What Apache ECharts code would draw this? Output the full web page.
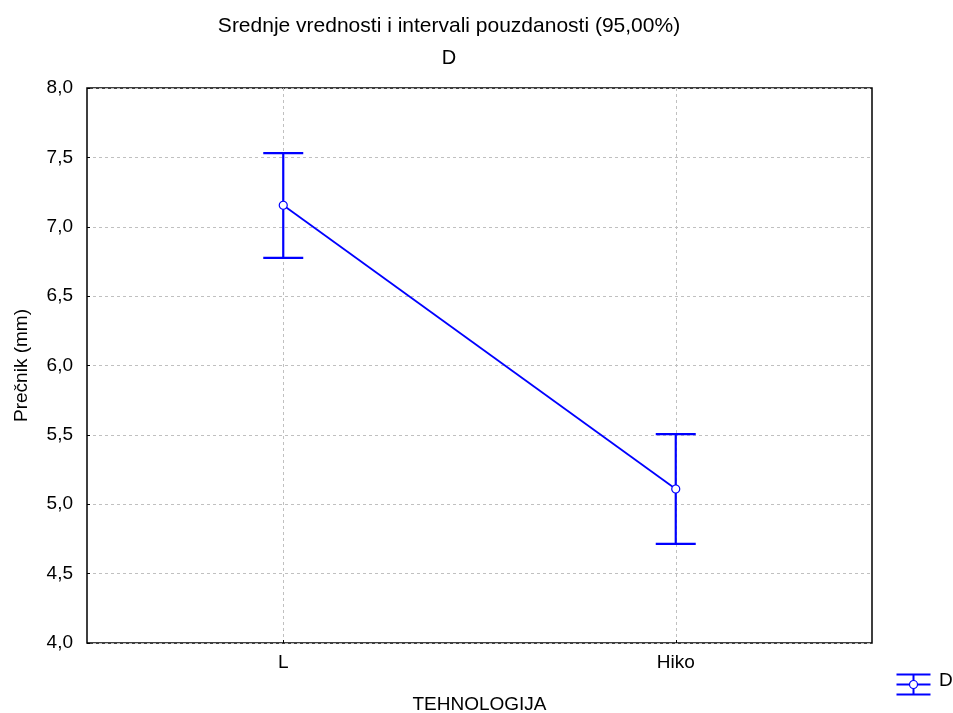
<!DOCTYPE html>
<html>
<head>
<meta charset="utf-8">
<script src="https://cdn.jsdelivr.net/npm/echarts@6/dist/echarts.min.js"></script>
<style>
  html, body { margin: 0; padding: 0; background: #fff; }
  #chart { width: 953px; height: 713px; }
</style>
</head>
<body>
<div id="chart"></div>
<script>
// Means with 95% confidence intervals, by technology
var categories = ['L', 'Hiko'];
var means = [7.155, 5.11];
var upper = [7.53, 5.505];
var lower = [6.775, 4.715];
var yTicks = { min: 4, max: 8, interval: 0.5 };

(function() {
  var blue = '#0000ff';
  var font = 'Liberation Sans, Arial, sans-serif';
  var fs = 19;
  var fmt = function(v) { return v.toFixed(1).replace('.', ','); };

  var chart = echarts.init(document.getElementById('chart'), null, { renderer: 'canvas' });
  chart.setOption({
    animation: false,
    textStyle: { fontFamily: font },
    title: [
      { text: 'Srednje vrednosti i intervali pouzdanosti (95,00%)', left: 444, top: 11, textAlign: 'center',
        textStyle: { fontSize: 21, fontWeight: 'normal', color: '#000' } },
      { text: 'D', left: 444, top: 43, textAlign: 'center',
        textStyle: { fontSize: 20, fontWeight: 'normal', color: '#000' } }
    ],
    grid: { left: 87, right: 81, top: 88, bottom: 70, outerBoundsMode: 'none', show: true,
            borderColor: '#000', borderWidth: 1.5, backgroundColor: 'transparent' },
    xAxis: {
      type: 'category',
      data: categories,
      name: 'TEHNOLOGIJA',
      nameLocation: 'middle',
      nameGap: 52,
      nameTextStyle: { fontSize: fs, color: '#000' },
      axisLine: { show: false },
      axisTick: { show: true, inside: true, length: 3, alignWithLabel: true, lineStyle: { color: '#000' } },
      axisLabel: { fontSize: fs, color: '#000', margin: 10 },
      splitLine: { show: true, alignWithLabel: true, lineStyle: { color: '#c0c0c0', type: [3, 3], width: 1 } }
    },
    yAxis: {
      type: 'value',
      min: yTicks.min,
      max: yTicks.max,
      interval: yTicks.interval,
      name: 'Prečnik (mm)',
      nameLocation: 'middle',
      nameGap: 56,
      nameTextStyle: { fontSize: fs, color: '#000' },
      axisLine: { show: false },
      axisTick: { show: true, inside: true, length: 3, lineStyle: { color: '#000' } },
      axisLabel: { fontSize: fs, color: '#000', margin: 14, formatter: fmt },
      splitLine: { show: true, lineStyle: { color: '#c0c0c0', type: [3, 3], width: 1 } }
    },
    series: [
      {
        type: 'custom',
        name: 'D',
        z: 2,
        data: categories.map(function(c, i) { return [i, lower[i], upper[i]]; }),
        encode: { x: 0, y: [1, 2] },
        renderItem: function(params, api) {
          var i = api.value(0);
          var hi = api.coord([i, api.value(2)]);
          var lo = api.coord([i, api.value(1)]);
          var hw = 20;
          var st = { stroke: blue, lineWidth: 2.2 };
          return {
            type: 'group',
            children: [
              { type: 'line', shape: { x1: hi[0], y1: hi[1], x2: lo[0], y2: lo[1] }, style: st },
              { type: 'line', shape: { x1: hi[0] - hw, y1: hi[1], x2: hi[0] + hw, y2: hi[1] }, style: st },
              { type: 'line', shape: { x1: lo[0] - hw, y1: lo[1], x2: lo[0] + hw, y2: lo[1] }, style: st }
            ]
          };
        }
      },
      {
        type: 'line',
        name: 'D',
        z: 3,
        data: means,
        symbol: 'circle',
        symbolSize: 8,
        itemStyle: { color: '#fff', borderColor: blue, borderWidth: 1.2 },
        lineStyle: { color: blue, width: 1.8 }
      }
    ],
    graphic: [
      {
        type: 'group', left: 894, top: 672,
        children: [
          { type: 'line', shape: { x1: 0, y1: 1, x2: 34, y2: 1 }, style: { stroke: blue, lineWidth: 2 } },
          { type: 'line', shape: { x1: 0, y1: 11, x2: 34, y2: 11 }, style: { stroke: blue, lineWidth: 2 } },
          { type: 'line', shape: { x1: 0, y1: 21, x2: 34, y2: 21 }, style: { stroke: blue, lineWidth: 2 } },
          { type: 'line', shape: { x1: 17, y1: 1, x2: 17, y2: 21 }, style: { stroke: blue, lineWidth: 2 } },
          { type: 'circle', shape: { cx: 17, cy: 11, r: 4 }, style: { fill: '#fff', stroke: blue, lineWidth: 1.2 } }
        ]
      },
      { type: 'text', left: 939, top: 671, style: { text: 'D', fontSize: fs, fill: '#000', fontFamily: font } }
    ]
  });
})();
</script>
</body>
</html>
